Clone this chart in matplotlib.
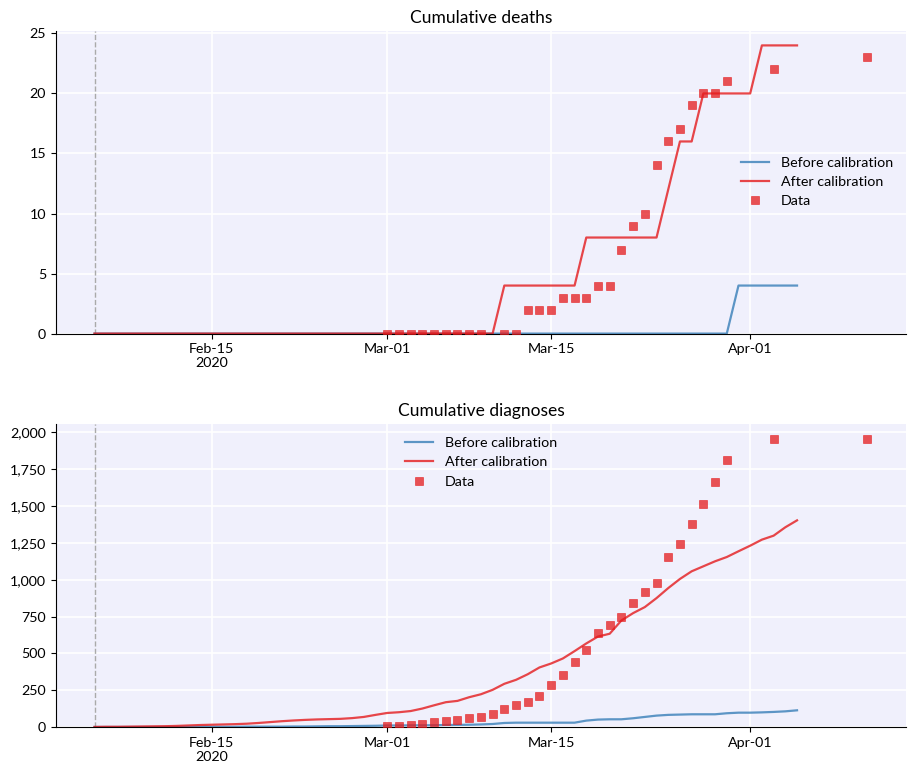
import numpy as np
import pandas as pd
import matplotlib
matplotlib.use("Agg")
import matplotlib.pyplot as plt
import matplotlib.ticker as mticker

plt.rcParams["font.family"] = ["Lato", "DejaVu Sans"]

# model output, daily from 2020-02-05 to 2020-04-05
model_dates = pd.date_range("2020-02-05", "2020-04-05", freq="D")

deaths_before = [0, 0, 0, 0, 0, 0, 0, 0, 0, 0, 0, 0, 0, 0, 0, 0, 0, 0, 0, 0, 0, 0, 0, 0, 0,
                 0, 0, 0, 0, 0, 0, 0, 0, 0, 0, 0, 0, 0, 0, 0, 0, 0, 0, 0, 0, 0, 0, 0, 0, 0,
                 0, 0, 0, 0, 0, 4, 4, 4, 4, 4, 4]
deaths_after = [0, 0, 0, 0, 0, 0, 0, 0, 0, 0, 0, 0, 0, 0, 0, 0, 0, 0, 0, 0, 0, 0, 0, 0, 0,
                0, 0, 0, 0, 0, 0, 0, 0, 0, 0, 4, 4, 4, 4, 4, 4, 4, 8, 8, 8, 8, 8, 8, 8, 12,
                16, 16, 20, 20, 20, 20, 20, 24, 24, 24, 24]

diag_before = [0, 0, 0, 0, 0, 0, 0, 0, 1, 1, 1, 1, 1, 2, 2, 2, 2, 3, 3, 4, 5, 5, 6, 7, 8,
               10, 10, 11, 11, 12, 13, 14, 15, 17, 20, 27, 29, 29, 29, 29, 29, 29, 43, 50, 52,
               52, 59, 68, 77, 82, 84, 86, 86, 86, 93, 97,
               97, 99, 102, 106, 113]
diag_after = [0, 1, 1, 2, 3, 4, 5, 7, 10, 13, 15, 17, 19, 22, 27, 33, 39, 44, 48, 51, 53, 55, 60, 68, 82,
              95, 100, 108, 125, 147, 168, 177, 202, 222, 252, 293, 320, 358, 404, 431, 465, 515, 567,
              614, 633, 723, 773, 814, 875, 943, 1005, 1057, 1091, 1125, 1154, 1193,
              1231, 1272, 1299, 1356, 1403]

# observed data
data_dates = pd.to_datetime(list(pd.date_range("2020-03-01", "2020-03-30", freq="D"))
                            + ["2020-04-03", "2020-04-11"])
deaths_data = [0, 0, 0, 0, 0, 0, 0, 0, 0, np.nan, 0, 0, 2, 2, 2, 3, 3, 3, 4, 4, 7, 9, 10, 14,
               16, 17, 19, 20, 20, 21, 22, 23]
diag_data = [9, 9, 16, 20, 34, 41, 45, 61, 68, 86, 120, 147, 168, 209, 286, 354, 440, 521,
             637, 692, 746, 841, 916, 977, 1154, 1243, 1379, 1515, 1665, 1814, 1957, 1957]

start_date = pd.Timestamp("2020-02-05")
tick_dates = pd.to_datetime(["2020-02-15", "2020-03-01", "2020-03-15", "2020-04-01"])
tick_labels = ["Feb-15\n2020", "Mar-01", "Mar-15", "Apr-01"]

blue = "#377eb8"
red = "#e41a1c"

fig, axes = plt.subplots(2, 1, figsize=(9.16, 7.75))
fig.subplots_adjust(left=0.061, right=0.989, top=0.96, bottom=0.062, hspace=0.30)

panels = [
    (axes[0], "Cumulative deaths", deaths_before, deaths_after, deaths_data, "center right"),
    (axes[1], "Cumulative diagnoses", diag_before, diag_after, diag_data, "upper center"),
]

for ax, title, before, after, data, legloc in panels:
    ax.set_facecolor("#f0f0fc")
    ax.grid(color="white", linewidth=1.2)
    ax.set_axisbelow(True)
    ax.plot(model_dates, before, color=blue, alpha=0.8, lw=1.6, label="Before calibration")
    ax.plot(model_dates, after, color=red, alpha=0.8, lw=1.6, label="After calibration")
    ax.plot(data_dates, data, "s", color=red, alpha=0.75, ms=5.3, mec=red, mew=0.5,
            label="Data", zorder=3)
    ax.axvline(start_date, color="#aaaaaa", ls="--", lw=1, zorder=1)
    ax.set_ylim(bottom=0)
    ax.set_xticks(tick_dates)
    ax.set_xticklabels(tick_labels)
    ax.yaxis.set_major_formatter(mticker.StrMethodFormatter("{x:,.0f}"))
    ax.spines["top"].set_visible(False)
    ax.spines["right"].set_visible(False)
    ax.tick_params(labelsize=10.3)
    ax.set_title(title, fontsize=12.5)
    ax.legend(loc=legloc, frameon=False, fontsize=10.3)

axes[0].set_yticks([0, 5, 10, 15, 20, 25])
axes[1].set_yticks([0, 250, 500, 750, 1000, 1250, 1500, 1750, 2000])

fig.savefig("out.png", dpi=100)
